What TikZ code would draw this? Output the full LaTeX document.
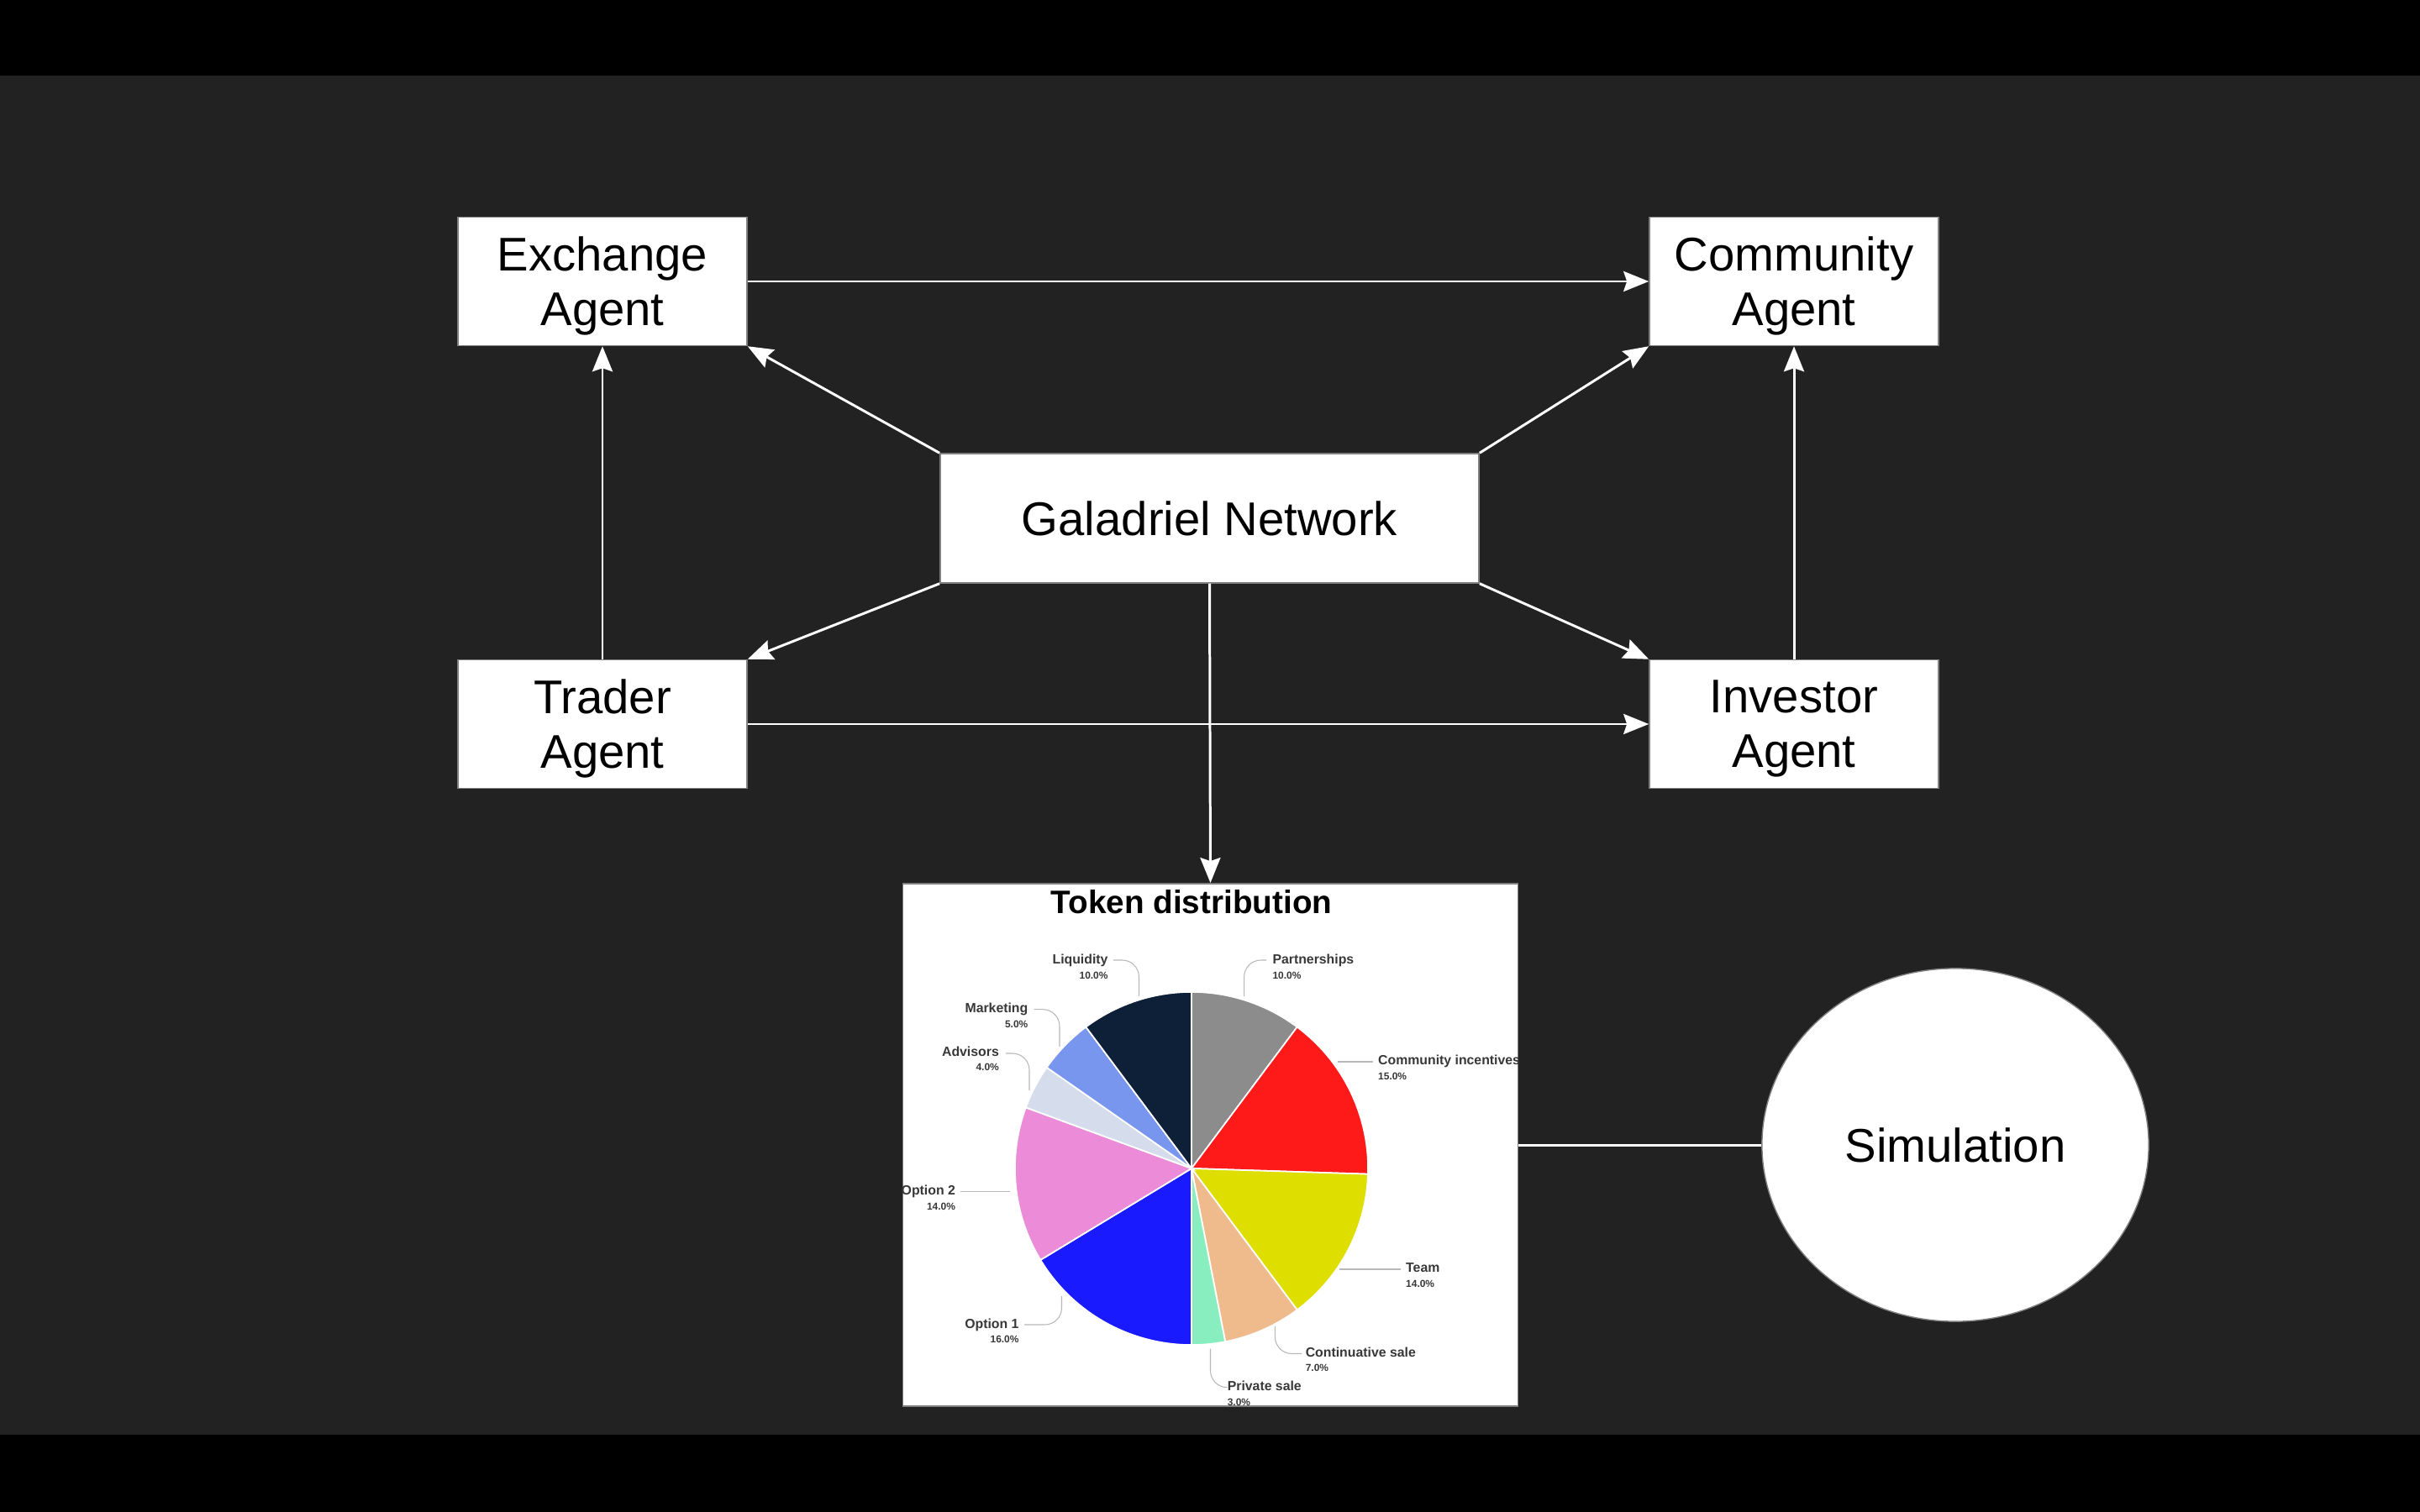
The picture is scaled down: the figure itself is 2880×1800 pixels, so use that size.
\documentclass[tikz,border=0pt]{standalone}
\usepackage{fontspec}
\setmainfont{Liberation Sans}
\usetikzlibrary{arrows.meta,calc,shapes.geometric}

\definecolor{fondo}{HTML}{222222}
\definecolor{borde}{HTML}{808080}
\definecolor{cPart}{HTML}{8C8C8C}
\definecolor{cComm}{HTML}{FF1A1A}
\definecolor{cTeam}{HTML}{DEDE00}
\definecolor{cCont}{HTML}{F0BB8C}
\definecolor{cPriv}{HTML}{88EEC0}
\definecolor{cOpA}{HTML}{1A1AFF}
\definecolor{cOpB}{HTML}{EC8CD8}
\definecolor{cAdv}{HTML}{D5DCEC}
\definecolor{cMkt}{HTML}{7896EE}
\definecolor{cLiq}{HTML}{0E1F38}
\newcommand\pctl[1]{{\fontsize{3.4}{4}\selectfont #1}}

\begin{document}
\begin{tikzpicture}[x=0.01cm,y=-0.01cm,line width=0.85pt,>={Stealth[length=3mm,width=2.4mm,inset=0.4mm]},
  agente/.style={draw=borde,line width=0.4pt,fill=white,minimum width=3.44cm,minimum height=1.53cm,
    align=center,inner sep=0pt,font=\fontsize{16}{18.5}\selectfont},
  dosl/.style={agente,text depth=0pt},
  flecha/.style={->,white},
  guia/.style={line width=0.3pt,black!28,rounded corners=0.2cm},
  etiq/.style={inner sep=0pt,text=black!78,font=\fontsize{4.5}{5}\selectfont\bfseries}]
  \useasboundingbox (0,0) rectangle (2880,1800);
  \fill[black] (0,0) rectangle (2880,1800);
  \fill[fondo] (0,90) rectangle (2880,1708);
  % agentes y red
  \node[dosl] (ex) at (717,335) {Exchange\\Agent};
  \node[dosl] (com) at (2135,335) {Community\\Agent};
  \node[dosl] (tr) at (717,862) {Trader\\Agent};
  \node[dosl] (inv) at (2135,862) {Investor\\Agent};
  \node[agente,minimum width=6.41cm,minimum height=1.54cm] (gal) at (1439.5,617) {Galadriel Network};
  \node[draw=borde,line width=0.4pt,fill=white,minimum width=7.31cm,minimum height=6.22cm,inner sep=0pt] (pie) at (1440.5,1363) {};
  \node[agente,ellipse,minimum width=4.6cm,minimum height=4.2cm] (sim) at (2327,1363) {Simulation};
  % flechas
  \draw[flecha] (ex.east) -- (com.west);
  \draw[flecha] (tr.east) -- (inv.west);
  \draw[flecha] (tr.north) -- (ex.south);
  \draw[flecha] (inv.north) -- (com.south);
  \draw[flecha] (gal.north west) -- (ex.south east);
  \draw[flecha] (gal.south west) -- (tr.north east);
  \draw[flecha] (gal.north east) -- (com.south west);
  \draw[flecha] (gal.south east) -- (inv.north west);
  \draw[flecha] (gal.south) -- (pie.north);
  \draw[white] (pie.east) -- (sim.west);
  % tarta (porcentajes sobre 98)
  \node[font=\fontsize{11}{12}\selectfont\bfseries] (ttl) at (1418,1074) {Token distribution};
  \coordinate (pc) at (1418,1391);
  \begin{scope}[shift={(pc)},x=2.1cm,y=-2.1cm]
    \foreach \a/\b/\c in {0/10/cPart,10/25/cComm,25/39/cTeam,39/46/cCont,46/49/cPriv,49/65/cOpA,65/79/cOpB,79/83/cAdv,83/88/cMkt,88/98/cLiq}
      \filldraw[fill=\c,draw=white,line width=0.5pt] (0,0) -- ({-90+\a*3.67347}:1)
        arc[start angle={-90+\a*3.67347},end angle={-90+\b*3.67347},radius=1] -- cycle;
  \end{scope}
  % etiquetas
  \draw[guia] (1480.6,1186) -- (1480.6,1143) -- (1507,1143);
  \node[etiq,anchor=west,align=left] (lpart) at (1513,1151) {Partnerships\\\pctl{10.0\%}};
  \draw[guia] (1591.5,1264) -- (1634,1264);
  \node[etiq,anchor=west,align=left] (lcomm) at (1638.7,1271) {Community incentives\\\pctl{15.0\%}};
  \draw[guia] (1593.8,1511) -- (1667,1511);
  \node[etiq,anchor=west,align=left] (lteam) at (1671.7,1518) {Team\\\pctl{14.0\%}};
  \draw[guia] (1517.4,1579) -- (1517.4,1611.5) -- (1549,1611.5);
  \node[etiq,anchor=west,align=left] (lcont) at (1552.3,1618.5) {Continuative sale\\\pctl{7.0\%}};
  \draw[guia] (1440.5,1605.5) -- (1440.5,1651.7) -- (1456,1651.7);
  \node[etiq,anchor=west,align=left] (lpriv) at (1459.3,1659) {Private sale\\\pctl{3.0\%}};
  \draw[guia] (1263.5,1543) -- (1263.5,1577) -- (1219,1577);
  \node[etiq,anchor=east,align=right] (lopa) at (1214,1584.5) {Option 1\\\pctl{16.0\%}};
  \draw[guia] (1143,1418.6) -- (1202,1418.6);
  \node[etiq,anchor=east,align=right] (lopb) at (1138.4,1425.6) {Option 2\\\pctl{14.0\%}};
  \draw[guia] (1197,1254) -- (1225,1254) -- (1225,1298);
  \node[etiq,anchor=east,align=right] (ladv) at (1190.3,1260.5) {Advisors\\\pctl{4.0\%}};
  \draw[guia] (1230.5,1201.7) -- (1261,1201.7) -- (1261,1246);
  \node[etiq,anchor=east,align=right] (lmkt) at (1224.8,1208.7) {Marketing\\\pctl{5.0\%}};
  \draw[guia] (1325,1143) -- (1355.5,1143) -- (1355.5,1186);
  \node[etiq,anchor=east,align=right] (lliq) at (1320,1151) {Liquidity\\\pctl{10.0\%}};
\end{tikzpicture}
\end{document}
